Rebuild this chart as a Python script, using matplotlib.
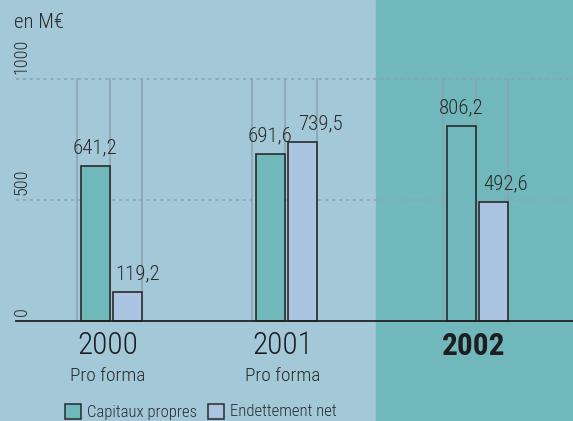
import matplotlib.pyplot as plt

plt.rcParams['font.family'] = ['Roboto Condensed', 'DejaVu Sans Condensed',
                               'Liberation Sans Narrow', 'Liberation Sans']

years = ["2000", "2001", "2002"]
subtitles = ["Pro forma", "Pro forma", ""]
capitaux = [641.2, 691.6, 806.2]
endettement = [119.2, 739.5, 492.6]
labels_cap = ["641,2", "691,6", "806,2"]
labels_end = ["119,2", "739,5", "492,6"]
yticks = [0, 500, 1000]

# layout (axes uses pixel-like x units across the whole figure)
W, H = 573, 421
group_left = [80.7, 255.7, 446.7]
bar_w = 29
gap = 3.3
px_per_unit = 0.242
y0_pix = 321
end_dx = [10, 18, 12]

bg = "#a3c8d8"
teal_bg = "#70b8bb"
teal = "#70b8b9"
blue = "#abc4e2"
grid_c = "#8aa3b2"
txt = "#2b2b2b"
light = 300

fig = plt.figure(figsize=(W / 100, H / 100), dpi=100, facecolor=bg)
ax = fig.add_axes([0, 0, 1, 1])
ax.set_facecolor(bg)
ax.set_xlim(0, W)
ymax = y0_pix / px_per_unit
ymin = -(H - y0_pix) / px_per_unit
ax.set_ylim(ymin, ymax)
ax.axis("off")

ax.axvspan(376, W, color=teal_bg, zorder=0)

# dotted grid
for v in yticks[1:]:
    ax.plot([16, W], [v, v], color=grid_c, lw=1.1, ls=(0, (2, 2.5)), zorder=1)

for i in range(len(years)):
    xl = group_left[i]
    x_cap = xl + bar_w / 2
    x_end = xl + bar_w + gap + bar_w / 2
    # vertical lines
    for xv in [xl - 3.5, xl + bar_w, xl + 2 * bar_w + gap]:
        ax.plot([xv, xv], [0, 1000], color=grid_c, lw=1.1, zorder=1)
    cap_col = teal_bg if i == 2 else teal
    ax.bar(x_cap, capitaux[i], width=bar_w, color=cap_col, edgecolor="#2a2a2a",
           lw=1.2, zorder=2)
    ax.bar(x_end, endettement[i], width=bar_w, color=blue, edgecolor="#2a2a2a",
           lw=1.2, zorder=2)
    ax.text(x_cap, capitaux[i] + 36, labels_cap[i], ha="center", va="bottom",
            fontsize=15, color=txt, fontweight=light, zorder=3)
    ax.text(x_end + end_dx[i], endettement[i] + 36, labels_end[i], ha="center",
            va="bottom", fontsize=15, color=txt, fontweight=light, zorder=3)
    xc = xl + bar_w + gap / 2 - 4
    ax.text(xc, -103, years[i], ha="center", va="center", fontsize=22.5,
            color="#1e1e1e", fontweight="bold" if i == 2 else light)
    if subtitles[i]:
        ax.text(xc, -228, subtitles[i], ha="center", va="center", fontsize=14,
                color=txt, fontweight=light)

# zero line
ax.plot([16, W], [0, 0], color="#222222", lw=1.3, zorder=3)

# y tick labels
for v in yticks:
    ax.text(22, v + 20, str(v), rotation=90, ha="center", va="bottom",
            fontsize=13, color=txt, fontweight=light)

ax.text(14, (y0_pix - 22) / px_per_unit, "en M€", ha="left", va="center",
        fontsize=15, color=txt, fontweight=light)

# legend
leg_y = -(412 - y0_pix) / px_per_unit
for xb, col, lab in [(65, teal, "Capitaux propres"), (208, blue, "Endettement net")]:
    ax.add_patch(plt.Rectangle((xb, leg_y - 30), 16, 62, facecolor=col,
                               edgecolor="#2a2a2a", lw=1.1, zorder=3))
    ax.text(xb + 22, leg_y, lab, ha="left", va="center", fontsize=12,
            color=txt, fontweight=light)

fig.savefig("out.png", dpi=100, facecolor=bg)
